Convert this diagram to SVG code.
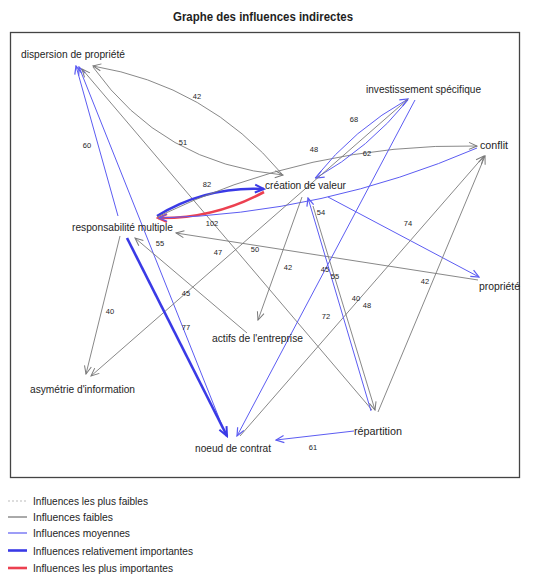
<svg xmlns="http://www.w3.org/2000/svg" width="541" height="580" viewBox="0 0 541 580">
<style>
text{font-family:"Liberation Sans",Arial,sans-serif;fill:#1e1e1e}
.t{font-size:13px;font-weight:bold}
.n{font-size:11px}
.v{font-size:7.5px;text-anchor:middle}
.lg{font-size:11px}
.e{fill:none}
.g{stroke:#7a7a7a;stroke-width:0.9}
.b{stroke:#5c5cf2;stroke-width:1}
.bb{stroke:#3a3ae6;stroke-width:2.6}
.r{stroke:#ec4050;stroke-width:2.6}
</style>
<defs>
<marker id="mg" markerWidth="10" markerHeight="10" refX="9" refY="5" orient="auto" markerUnits="userSpaceOnUse"><path d="M1,1.5 L9,5 L1,8.5" fill="none" stroke="#7a7a7a" stroke-width="1"/></marker>
<marker id="mb" markerWidth="10" markerHeight="10" refX="9" refY="5" orient="auto" markerUnits="userSpaceOnUse"><path d="M1,1.5 L9,5 L1,8.5" fill="none" stroke="#5c5cf2" stroke-width="1.2"/></marker>
<marker id="mbb" markerWidth="12" markerHeight="12" refX="10" refY="6" orient="auto" markerUnits="userSpaceOnUse"><path d="M1,2 L10,6 L1,10" fill="none" stroke="#3a3ae6" stroke-width="2"/></marker>
<marker id="mr" markerWidth="12" markerHeight="12" refX="10" refY="6" orient="auto" markerUnits="userSpaceOnUse"><path d="M1,2 L10,6 L1,10" fill="none" stroke="#ec4050" stroke-width="2"/></marker>
</defs>
<rect width="541" height="580" fill="#ffffff"/>
<text class="t" x="263" y="21" text-anchor="middle" textLength="180" lengthAdjust="spacingAndGlyphs">Graphe des influences indirectes</text>
<rect x="10.5" y="32.5" width="509" height="445" fill="none" stroke="#444" stroke-width="1.3"/>
<g id="connectors">
<path class="e g" d="M282,174 Q207,85 93,66" marker-end="url(#mg)"/>
<path class="e g" d="M93,67 Q162,164 283,175" marker-end="url(#mg)"/>
<path class="e b" d="M118,216 L76,66" marker-end="url(#mb)"/>
<path class="e b" d="M225,433 L79,67" marker-end="url(#mb)"/>
<path class="e g" d="M372,410 L82,69" marker-end="url(#mg)"/>
<path class="e bb" d="M157,216 Q206,186 264,189" marker-end="url(#mbb)"/>
<path class="e r" d="M264,192 Q214,219 158,218" marker-end="url(#mr)"/>
<path class="e g" d="M157,217 Q309,143 477,146" marker-end="url(#mg)"/>
<path class="e b" d="M477,148 Q324,214 159,218" marker-end="url(#mb)"/>
<path class="e b" d="M315,178 Q354,129 408,99" marker-end="url(#mb)"/>
<path class="e b" d="M408,100 Q369,148 316,178" marker-end="url(#mb)"/>
<path class="e b" d="M328,197 L479,277" marker-end="url(#mb)"/>
<path class="e g" d="M478,280 L176,233" marker-end="url(#mg)"/>
<path class="e b" d="M415,100 L237,436" marker-end="url(#mb)"/>
<path class="e g" d="M240,436 L484,156" marker-end="url(#mg)"/>
<path class="e g" d="M378,412 L485,156" marker-end="url(#mg)"/>
<path class="e g" d="M302,197 L258,320" marker-end="url(#mg)"/>
<path class="e g" d="M247,333 L135,238" marker-end="url(#mg)"/>
<path class="e g" d="M408,99 L91,376" marker-end="url(#mg)"/>
<path class="e g" d="M120,236 L86,374" marker-end="url(#mg)"/>
<path class="e bb" d="M127,238 L227,436" marker-end="url(#mbb)"/>
<path class="e b" d="M371,411 L308,198" marker-end="url(#mb)"/>
<path class="e g" d="M313,206 L375,410" marker-end="url(#mg)"/>
<path class="e b" d="M354,431 L276,440" marker-end="url(#mb)"/>
<g id="edge-labels">
<text class="v" x="197" y="99">42</text>
<text class="v" x="183" y="145">51</text>
<text class="v" x="87" y="148">60</text>
<text class="v" x="207" y="187">82</text>
<text class="v" x="212" y="226">102</text>
<text class="v" x="314" y="152">48</text>
<text class="v" x="354" y="122">68</text>
<text class="v" x="367" y="156">62</text>
<text class="v" x="160" y="246">55</text>
<text class="v" x="218" y="255">47</text>
<text class="v" x="255" y="252">50</text>
<text class="v" x="186" y="296">45</text>
<text class="v" x="288" y="270">42</text>
<text class="v" x="321" y="215">54</text>
<text class="v" x="408" y="226">74</text>
<text class="v" x="325" y="272">45</text>
<text class="v" x="335" y="279">55</text>
<text class="v" x="425" y="284">42</text>
<text class="v" x="356" y="301">40</text>
<text class="v" x="367" y="308">48</text>
<text class="v" x="326" y="319">72</text>
<text class="v" x="110" y="314">40</text>
<text class="v" x="186" y="330">77</text>
<text class="v" x="313" y="450">61</text>
</g>
</g>
<g id="dispersion"><text class="n" x="21" y="58" textLength="104" lengthAdjust="spacingAndGlyphs">dispersion de propriété</text></g>
<g id="investissement"><text class="n" x="366" y="93" textLength="115" lengthAdjust="spacingAndGlyphs">investissement spécifique</text></g>
<g id="conflit"><text class="n" x="480" y="149" textLength="28" lengthAdjust="spacingAndGlyphs">conflit</text></g>
<g id="creation"><text class="n" x="265" y="189" textLength="81" lengthAdjust="spacingAndGlyphs">création de valeur</text></g>
<g id="responsabilite"><text class="n" x="72" y="231" textLength="101" lengthAdjust="spacingAndGlyphs">responsabilité multiple</text></g>
<g id="propriete"><text class="n" x="479" y="290" textLength="41" lengthAdjust="spacingAndGlyphs">propriété</text></g>
<g id="actifs"><text class="n" x="212" y="342" textLength="91" lengthAdjust="spacingAndGlyphs">actifs de l'entreprise</text></g>
<g id="asymetrie"><text class="n" x="30" y="393" textLength="105" lengthAdjust="spacingAndGlyphs">asymétrie d'information</text></g>
<g id="noeud"><text class="n" x="195" y="452" textLength="76" lengthAdjust="spacingAndGlyphs">noeud de contrat</text></g>
<g id="repartition"><text class="n" x="354" y="435" textLength="48" lengthAdjust="spacingAndGlyphs">répartition</text></g>
<g id="legend">
<line x1="8" y1="501" x2="27" y2="501" stroke="#bbbbbb" stroke-width="1" stroke-dasharray="2,2"/>
<line x1="8" y1="517" x2="27" y2="517" stroke="#555555" stroke-width="1"/>
<line x1="8" y1="533" x2="27" y2="533" stroke="#5c5cf2" stroke-width="1.2"/>
<line x1="8" y1="550.5" x2="27" y2="550.5" stroke="#3a3ae6" stroke-width="2.6"/>
<line x1="8" y1="568" x2="27" y2="568" stroke="#ec4050" stroke-width="2.6"/>
<text class="lg" x="33" y="505" textLength="115" lengthAdjust="spacingAndGlyphs">Influences les plus faibles</text>
<text class="lg" x="33" y="521" textLength="80" lengthAdjust="spacingAndGlyphs">Influences faibles</text>
<text class="lg" x="33" y="537" textLength="97" lengthAdjust="spacingAndGlyphs">Influences moyennes</text>
<text class="lg" x="33" y="554.5" textLength="160" lengthAdjust="spacingAndGlyphs">Influences relativement importantes</text>
<text class="lg" x="33" y="572" textLength="140" lengthAdjust="spacingAndGlyphs">Influences les plus importantes</text>
</g>
</svg>
